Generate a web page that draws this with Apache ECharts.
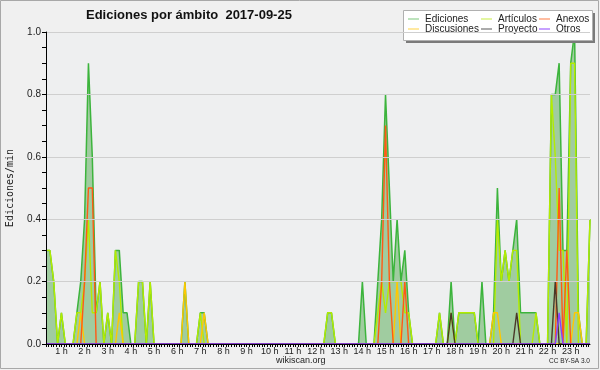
<!DOCTYPE html>
<html><head><meta charset="utf-8">
<script src="https://cdn.jsdelivr.net/npm/echarts@6/dist/echarts.min.js"></script>
<style>html,body{margin:0;padding:0;background:#f0f0f0}#c{width:600px;height:370px}</style>
</head><body><div id="c"></div>
<script>
// 10-minute buckets, first bucket at 00:20
const startMinute = 20;
const stepMinutes = 10;
const ediciones = [
  0.3,0.3,0.2,0,
  0.1,0,0,0,0.1,0.2,
  0.4,0.9,0.6,0.1,0.2,0,
  0.1,0,0.3,0.3,0.1,0.1,
  0,0,0.2,0.2,0,0.2,
  0,0,0,0,0,0,
  0,0,0.2,0,0,0,
  0.1,0.1,0,0,0,0,
  0,0,0,0,0,0,
  0,0,0,0,0,0,
  0,0,0,0,0,0,
  0,0,0,0,0,0,
  0,0,0,0.1,0.1,0,
  0,0,0,0,0,0,
  0.2,0,0,0,0.2,0.4,
  0.8,0.5,0.2,0.4,0.2,0.3,
  0.1,0,0,0,0,0,
  0,0,0.1,0,0,0.2,
  0,0.1,0.1,0.1,0.1,0.1,
  0,0.2,0,0,0.1,0.5,
  0.2,0.3,0.2,0.3,0.4,0.1,
  0.1,0.1,0.1,0.1,0,0,
  0,0.8,0.8,0.9,0.3,0.3,
  0.9,1.0,0.1,0,0,0.4
];
const articulos = [
  0.3,0.3,0.2,0,
  0.1,0,0,0,0.1,0.1,
  0.2,0.4,0.1,0.1,0.2,0,
  0.1,0,0.3,0.2,0,0,
  0,0,0.2,0.2,0,0.2,
  0,0,0,0,0,0,
  0,0,0,0,0,0,
  0.1,0,0,0,0,0,
  0,0,0,0,0,0,
  0,0,0,0,0,0,
  0,0,0,0,0,0,
  0,0,0,0,0,0,
  0,0,0,0.1,0.1,0,
  0,0,0,0,0,0,
  0,0,0,0,0.1,0.2,
  0.1,0.2,0.2,0.2,0.2,0.1,
  0.1,0,0,0,0,0,
  0,0,0.1,0,0,0.1,
  0,0.1,0.1,0.1,0.1,0.1,
  0,0,0,0,0,0.4,
  0.2,0.3,0.2,0.3,0.3,0,
  0,0,0,0.1,0,0,
  0,0.8,0.6,0.3,0.3,0,
  0.9,0.9,0,0,0,0.4
];
const discusiones = [
  0,0,0,0,
  0,0,0,0,0,0.1,
  0,0,0,0,0,0,
  0,0,0,0.1,0,0,
  0,0,0,0,0,0,
  0,0,0,0,0,0,
  0,0,0.2,0,0,0,
  0,0.1,0,0,0,0,
  0,0,0,0,0,0,
  0,0,0,0,0,0,
  0,0,0,0,0,0,
  0,0,0,0,0,0,
  0,0,0,0,0,0,
  0,0,0,0,0,0,
  0,0,0,0,0,0,
  0,0,0,0.2,0,0,
  0,0,0,0,0,0,
  0,0,0,0,0,0,
  0,0,0,0,0,0,
  0,0,0,0,0.1,0.1,
  0,0,0,0,0,0,
  0,0,0,0,0,0,
  0,0,0,0,0,0,
  0,0.1,0.1,0,0,0
];
const anexos = [
  0,0,0,0,
  0,0,0,0,0,0,
  0.2,0.5,0.5,0,0,0,
  0,0,0,0,0,0,
  0,0,0,0,0,0,
  0,0,0,0,0,0,
  0,0,0,0,0,0,
  0,0,0,0,0,0,
  0,0,0,0,0,0,
  0,0,0,0,0,0,
  0,0,0,0,0,0,
  0,0,0,0,0,0,
  0,0,0,0,0,0,
  0,0,0,0,0,0,
  0,0,0,0,0,0.2,
  0.7,0.2,0,0,0,0.2,
  0,0,0,0,0,0,
  0,0,0,0,0,0,
  0,0,0,0,0,0,
  0,0,0,0,0,0,
  0,0,0,0,0,0,
  0,0,0,0,0,0,
  0,0,0,0.5,0,0.3,
  0,0,0,0,0,0
];
const proyecto = [
  0,0,0,0,
  0,0,0,0,0,0,
  0,0,0,0,0,0,
  0,0,0,0,0,0,
  0,0,0,0,0,0,
  0,0,0,0,0,0,
  0,0,0,0,0,0,
  0,0,0,0,0,0,
  0,0,0,0,0,0,
  0,0,0,0,0,0,
  0,0,0,0,0,0,
  0,0,0,0,0,0,
  0,0,0,0,0,0,
  0,0,0,0,0,0,
  0,0,0,0,0,0,
  0,0,0,0,0,0,
  0,0,0,0,0,0,
  0,0,0,0,0,0.1,
  0,0,0,0,0,0,
  0,0,0,0,0,0,
  0,0,0,0,0.1,0,
  0,0,0,0,0,0,
  0,0,0.2,0,0,0,
  0,0,0,0,0,0
];
const otros = [
  0,0,0,0,
  0,0,0,0,0,0,
  0,0,0,0,0,0,
  0,0,0,0,0,0,
  0,0,0,0,0,0,
  0,0,0,0,0,0,
  0,0,0,0,0,0,
  0,0,0,0,0,0,
  0,0,0,0,0,0,
  0,0,0,0,0,0,
  0,0,0,0,0,0,
  0,0,0,0,0,0,
  0,0,0,0,0,0,
  0,0,0,0,0,0,
  0,0,0,0,0,0,
  0,0,0,0,0,0,
  0,0,0,0,0,0,
  0,0,0,0,0,0,
  0,0,0,0,0,0,
  0,0,0,0,0,0,
  0,0,0,0,0,0,
  0,0,0,0,0,0,
  0,0,0,0.1,0,0,
  0,0,0,0,0,0
];
const hourLabels = [1,2,3,4,5,6,7,8,9,10,11,12,13,14,15,16,17,18,19,20,21,22,23];

const toPts = arr => arr.map((v,i)=>[(startMinute + stepMinutes*i)/60, v]);
const xMin = startMinute/60;
const xMax = (startMinute + stepMinutes*(ediciones.length-1))/60;
const tickVals = [];
for (let k = Math.ceil(xMin*9); k <= Math.floor(xMax*9); k++) tickVals.push(k/9);

const colors = {
  'Ediciones':'#3cb43c', 'Artículos':'#b4ec00', 'Anexos':'#ff5a14',
  'Discusiones':'#ffc800', 'Proyecto':'#4a3828', 'Otros':'#8a3cff'
};
const legendColors = {
  'Ediciones':'#88cc88', 'Artículos':'#ccee55', 'Anexos':'#ff8855',
  'Discusiones':'#ffd855', 'Proyecto':'#666666', 'Otros':'#9955ff'
};
const lineSeries = (name, arr, extra) => Object.assign({
  name, type:'line', data: toPts(arr), symbol:'none', smooth:false,
  lineStyle:{color:colors[name], width:1.4},
  itemStyle:{color:colors[name]},
  emphasis:{disabled:true}, animation:false, z:2
}, extra||{});

const legendIcon = 'path://M0,0H10V1H0Z';
const mkLegend = (names, left) => ({
  data: names.map(n=>({name:n, itemStyle:{color:legendColors[n]}})),
  orient:'vertical', left, top:14, padding:0, itemWidth:11, itemHeight:1.3, itemGap:0,
  icon: legendIcon, selectedMode:false,
  textStyle:{fontFamily:'Liberation Sans', fontSize:10, color:'#222', lineHeight:9.5, padding:[0,0,0,1]},
  z:5
});

const chart = echarts.init(document.getElementById('c'));
chart.setOption({
  backgroundColor:'#f0f0f0',
  animation:false,
  title:{text:'Ediciones por ámbito  2017-09-25', left:86, top:9, padding:0,
    textStyle:{fontFamily:'Liberation Sans', fontWeight:'bold', fontSize:13, color:'#111'}},
  legend:[ mkLegend(['Ediciones','Discusiones'],408), mkLegend(['Artículos','Proyecto'],481), mkLegend(['Anexos','Otros'],539) ],
  grid:{left:46, right:10, top:32, bottom:26, show:true, backgroundColor:'#eeeff0', borderWidth:0,
    containLabel:false, outerBoundsMode:'none'},
  xAxis:{type:'value', min:xMin, max:xMax, z:10,
    axisLine:{lineStyle:{color:'#000', width:1}},
    axisTick:{customValues:tickVals, length:3, lineStyle:{color:'#000'}},
    axisLabel:{customValues:hourLabels, formatter:v=>v+' h', fontFamily:'Liberation Sans', fontSize:9, color:'#222', margin:3},
    splitLine:{show:false}},
  yAxis:{type:'value', min:0, max:1, interval:0.2, z:10,
    axisLine:{show:true, lineStyle:{color:'#000'}},
    axisTick:{show:true, length:4, lineStyle:{color:'#000'}},
    minorTick:{show:true, splitNumber:4, length:4, lineStyle:{color:'#000'}},
    axisLabel:{formatter:v=>v.toFixed(1), fontFamily:'Liberation Sans', fontSize:10, color:'#222', margin:5},
    splitLine:{lineStyle:{color:'#cfcfcf'}},
    name:'Ediciones/min', nameLocation:'middle', nameGap:31, nameRotate:90,
    nameTextStyle:{fontFamily:'DejaVu Sans Mono', fontSize:10, color:'#222'}},
  series:[
    lineSeries('Ediciones', ediciones, {areaStyle:{color:'#a0cca0', opacity:1}, lineStyle:{color:'#3cb43c', width:1.5}, z:1}),
    lineSeries('Artículos', articulos),
    lineSeries('Discusiones', discusiones),
    lineSeries('Anexos', anexos),
    lineSeries('Proyecto', proyecto),
    lineSeries('Otros', otros)
  ],
  graphic:[
    {type:'rect', shape:{x:0.5, y:0.5, width:598, height:368}, style:{fill:'none', stroke:'#a8a8a8', lineWidth:1}, z:3},
    {type:'rect', shape:{x:406, y:13, width:189, height:30}, style:{fill:'#7a7a7a'}, z:3},
    {type:'rect', shape:{x:403.5, y:10.5, width:189, height:30}, style:{fill:'#ffffff', stroke:'#b0b0b0', lineWidth:1}, z:3},
    {type:'text', left:276, top:356, style:{text:'wikiscan.org', font:'9px "Liberation Sans"', fill:'#222'}, z:3},
    {type:'text', left:549, top:358, style:{text:'CC BY-SA 3.0', font:'6.5px "Liberation Sans"', fill:'#222'}, z:3}
  ]
});
</script></body></html>
